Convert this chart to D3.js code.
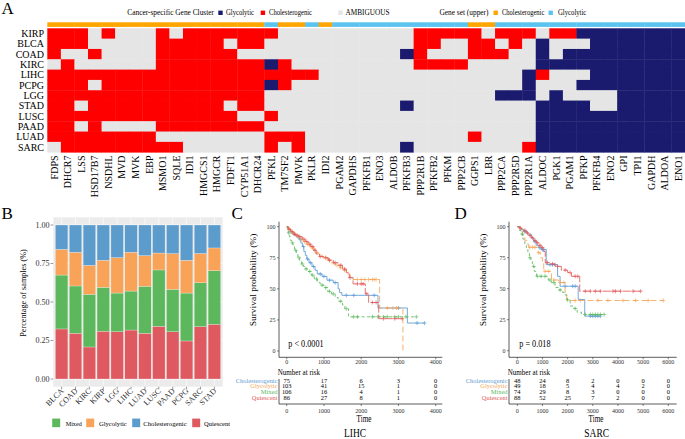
<!DOCTYPE html>
<html><head><meta charset="utf-8">
<script src="https://cdn.jsdelivr.net/npm/d3@7"></script>
<style>body{margin:0;background:#fff}svg{display:block}</style>
</head><body>
<svg id="chart" width="685" height="439"></svg>
<script>
// ---------------- DATA ----------------
const genes = ["FDPS","DHCR7","LSS","HSD17B7","NSDHL","MVD","MVK","EBP","MSMO1","SQLE","IDI1","HMGCS1","HMGCR","FDFT1","CYP51A1","DHCR24","PFKL","TM7SF2","PMVK","PKLR","IDI2","PGAM2","GAPDHS","PFKFB1","ENO3","ALDOB","PFKFB3","PPP2R1B","PFKFB2","PFKM","PPP2CB","GGPS1","LBR","PPP2CA","PPP2R5D","PPP2R1A","ALDOC","PGK1","PGAM1","PFKP","PFKFB4","ENO2","GPI","TPI1","GAPDH","ALDOA","ENO1"];
const geneSet = "CCCCCCCCCCCCCCCCGCCGCGGGGGGGGGGCCGGGGGGGGGGGGGG"; // C cholesterogenic, G glycolytic
const cancers = ["KIRP","BLCA","COAD","KIRC","LIHC","PCPG","LGG","STAD","LUSC","PAAD","LUAD","SARC"];
// R cholesterogenic, B glycolytic, . ambiguous
const clusterRows = [
  "RRR.R...R.RRRRRRR..........RRRRR.RRR.RRBBBBBBBB",
  "RRR.....RRRRR.RR...........RR..RR.R.B...BBBBBBB",
  "R..R....RRRRRR............BR...RRR..B.BBBBBBBBB",
  ".R......RRRRRRRRBR.........RRRR.....BBBBBBBBBBB",
  "RRRRRRRRRRRRRRRRRRRR...............BR...BBBBBBB",
  "RRR.RRRRRRRRRRRRBR.................B...BBBBBBBB",
  "RRRRRRRRRRRRRRRR.................BBB.B....BBBBB",
  "RR.RRRRRRRRRR.RR..........B.........BBBB..BBBBB",
  "RRRRRRRRRRRRRR..R...................BBBBBBBBBBB",
  "RR.R....RRRRRRRR....................BBBBBBBBBBB",
  "RRRRRRRR........RRR............R....BBBBBBBBBBB",
  ".RRRRRRRRR......R.R.......B........RBBBBBBBBBBB"
];

const bCancers = ["BLCA","COAD","KIRC","KIRP","LGG","LIHC","LUAD","LUSC","PAAD","PCPG","SARC","STAD"];
const quiescent       = [0.325,0.297,0.208,0.310,0.307,0.318,0.297,0.342,0.307,0.247,0.340,0.355];
const mixed           = [0.350,0.307,0.342,0.285,0.251,0.253,0.305,0.366,0.275,0.311,0.285,0.348];
const glycolytic      = [0.167,0.219,0.188,0.176,0.230,0.252,0.199,0.110,0.232,0.213,0.190,0.148];
const cholesterogenic = [0.158,0.177,0.262,0.229,0.212,0.177,0.199,0.182,0.186,0.229,0.185,0.149];
const bYTicks = [0, 0.25, 0.5, 0.75, 1];
const bYTickLabels = ["0.00","0.25","0.50","0.75","1.00"];

// LIHC survival (time in days, survival %)
const lihcCholSteps = [[0,100],[40,98],[100,96],[180,94],[250,92],[330,90],[380,87],[420,84],[460,80],[500,77],[540,74],[600,71],[680,68],[760,65],[820,62],[950,60],[1080,57],[1250,55],[1380,50],[1420,47],[1480,44.8],[2450,34.6],[3240,22.5]];
const lihcCholEnd = 3700;
const lihcCholCens = [120,200,300,360,450,560,640,720,900,1000,1150,1300,1600,1800,2350,3000,3500,3700];
const lihcGlySteps = [[0,100],[50,98],[120,96],[200,94],[280,92],[360,90],[440,88],[520,86],[600,84],[680,82],[760,79],[860,77],[960,75],[1100,73],[1200,71],[1300,69],[1420,67],[1520,65],[1600,62],[1700,59],[1780,57.5],[2495,34.6],[3120,0]];
const lihcGlyEnd = 3120;
const lihcGlyCens = [80,150,230,310,400,480,560,650,730,820,1050,1150,1250,1350,1450,1550,1900,2000,2100,2200,2300,2350,2400,2700,2850,2950];
const lihcMixSteps = [[0,100],[20,97],[40,95],[70,92],[100,89],[130,87],[170,84],[210,81],[260,78],[300,75],[350,72],[400,70],[450,68],[500,66],[580,64],[660,61],[740,58],[820,55],[900,53],[1000,51],[1100,48],[1200,46],[1300,43],[1380,40],[1500,37],[1560,34],[1660,27.5]];
const lihcMixEnd = 3480;
const lihcMixCens = [60,150,240,330,420,520,620,700,800,950,1050,1150,1250,1450,1600,1800,1900,2300,2450,2600,2700,2900,3000,3200,3480];
const lihcQuiSteps = [[0,100],[40,98],[100,96],[170,94],[250,93],[330,92],[420,90],[500,88],[580,86],[650,84],[720,81],[790,78],[880,76],[1000,75],[1120,73],[1250,71],[1380,69],[1500,66],[1600,63],[1680,59],[1780,54],[2110,46],[2200,39],[2470,26]];
const lihcQuiEnd = 3100;
const lihcQuiCens = [60,140,210,280,350,460,540,620,700,760,900,1050,1150,1300,1450,1550,1700,1900,2000,2050,2150,2300,2400,2600,2900,3100];
const lihcTimes = [0,1000,2000,3000,4000];
const lihcRiskChol = [75,17,6,3,0];
const lihcRiskGly  = [103,41,15,1,0];
const lihcRiskMix  = [106,16,4,1,0];
const lihcRiskQui  = [86,27,8,1,0];

// SARC survival
const sarcCholSteps = [[0,100],[100,98],[250,96],[400,94],[550,91],[650,88],[750,85],[850,83],[950,81.5],[1150,69.4],[1600,60],[1700,52],[2420,41.3],[2680,27.9]];
const sarcCholEnd = 3300;
const sarcCholCens = [300,700,900,1000,1050,1300,1400,1500,1900,2200,2300,2900,3000,3100,3200,3300];
const sarcGlySteps = [[0,100],[100,97],[200,93],[300,89],[380,86],[450,83.4],[830,79],[920,75],[1000,71],[1050,64],[1360,57],[1650,55],[1900,47],[1960,40.5]];
const sarcGlyEnd = 5800;
const sarcGlyCens = [500,600,700,850,1100,1250,1450,1700,1850,2300,2500,3200,3600,4200,4700,5200,5800];
const sarcMixSteps = [[0,100],[80,97],[150,94],[220,90],[300,86],[360,83],[420,79],[480,75],[540,72],[600,68],[680,64],[760,60],[1230,57],[1350,55],[1500,51],[1650,49],[1800,47],[1900,45],[1980,41],[2100,36],[2250,34],[2380,31],[2550,29.2]];
const sarcMixEnd = 3450;
const sarcMixCens = [200,500,650,800,950,1100,1300,1450,1700,2000,2300,2700,2900,3000,3100,3200,3300,3450];
const sarcQuiSteps = [[0,100],[80,99],[170,98],[260,97],[350,95],[450,93],[550,91],[650,89],[750,87],[850,85],[950,83],[1050,80],[1110,71],[1300,70],[1500,68],[1750,65],[2000,63],[2150,60],[2480,48]];
const sarcQuiEnd = 4900;
const sarcQuiCens = [120,300,400,500,600,700,800,900,1000,1200,1400,1600,1900,2100,2300,2400,2700,2900,3100,3300,3800,3900,4100,4600,4900];
const sarcTimes = [0,1000,2000,3000,4000,5000,6000];
const sarcRiskChol = [48,24,8,2,0,0,0];
const sarcRiskGly  = [49,18,5,4,4,2,0];
const sarcRiskMix  = [74,29,8,3,0,0,0];
const sarcRiskQui  = [88,52,25,7,2,0,0];

const kmYTicks = [0,25,50,75,100];

// ---------------- DRAW ----------------
const FONT = '"Liberation Serif","Times New Roman",Times,serif';
const svg = d3.select('#chart');
function T(g, x, y, s, o = {}) {
  let tr = `translate(${x},${y})`;
  if ((o.sx || 1) !== 1 || (o.sy || 1) !== 1) tr += ` scale(${o.sx || 1},${o.sy || 1})`;
  if (o.rot) tr += ` rotate(${o.rot})`;
  const t = g.append('text').attr('transform', tr)
    .attr('font-family', FONT).attr('font-size', o.size || 10)
    .attr('text-anchor', o.anchor || 'start').attr('fill', o.fill || '#000').text(s);
  if (o.len) t.attr('textLength', o.len).attr('lengthAdjust', 'spacingAndGlyphs');
  return t;
}

// ---- Panel A ----
const gA = svg.append('g');
const hx = d3.scaleBand().domain(genes).range([47.3, 685]);
const hy = d3.scaleBand().domain(cancers).range([28.3, 152.2]);
const cellCol = { R: '#FF0000', B: '#1A1A6E', '.': '#E5E5E5' };
const setCol = { C: '#FFA500', G: '#5BC3EF' };
const cells = [];
cancers.forEach((c, i) => clusterRows[i].split('').forEach((v, j) => cells.push({ c, g: genes[j], v })));
gA.append('g').selectAll('rect').data(cells).join('rect')
  .attr('x', d => hx(d.g)).attr('y', d => hy(d.c))
  .attr('width', hx.bandwidth() + 0.4).attr('height', hy.bandwidth() + 0.4)
  .attr('fill', d => cellCol[d.v]);
gA.append('g').selectAll('rect').data(genes).join('rect')
  .attr('x', d => hx(d)).attr('y', 22.3).attr('width', hx.bandwidth() + 0.3).attr('height', 4.6)
  .attr('fill', (d, i) => setCol[geneSet[i]]);
cancers.forEach(c => T(gA, 44, hy(c) + hy.bandwidth() / 2 + 3.5, c, { anchor: 'end', size: 10 }));
genes.forEach(gn => T(gA, hx(gn) + hx.bandwidth() / 2 + 3.5, 155.5, gn, { anchor: 'end', size: 10, rot: -90 }));
T(gA, 1.5, 13.5, 'A', { size: 17 });
// legend
const lg = [
  ['t', 127.3, 'Cancer-specific Gene Cluster', 86.7],
  ['s', 218.3, '#1A1A6E'], ['t', 226, 'Glycolytic', 28],
  ['s', 260.7, '#FF0000'], ['t', 269, 'Cholesterogenic', 43],
  ['s', 338.3, '#E5E5E5'], ['t', 345.5, 'AMBIGUOUS', 44],
  ['t', 439.5, 'Gene set (upper)', 49],
  ['s', 493.5, '#FFA500'], ['t', 502, 'Cholesterogenic', 42.3],
  ['s', 548.5, '#5BC3EF'], ['t', 558, 'Glycolytic', 28.3]
];
lg.forEach(d => {
  if (d[0] === 't') T(gA, d[1], 14.6, d[2], { size: 7.4, len: d[3] });
  else gA.append('rect').attr('x', d[1]).attr('y', 10.6).attr('width', 4.4).attr('height', 4.4).attr('fill', d[2]);
});

// ---- Panel B ----
const gB = svg.append('g');
const bx = d3.scaleBand().domain(bCancers).range([53.3, 222.7]).paddingInner(0.1).paddingOuter(0.15);
const by = d3.scaleLinear().domain([0, 1]).range([379, 225]);
gB.append('rect').attr('x', 53.3).attr('y', by(1.05)).attr('width', 222.7 - 53.3).attr('height', by(-0.05) - by(1.05)).attr('fill', '#EBEBEB');
[0.125, 0.375, 0.625, 0.875].forEach(v => gB.append('line').attr('x1', 53.3).attr('x2', 222.7).attr('y1', by(v)).attr('y2', by(v)).attr('stroke', '#fff').attr('stroke-width', 0.3));
bYTicks.forEach(v => gB.append('line').attr('x1', 53.3).attr('x2', 222.7).attr('y1', by(v)).attr('y2', by(v)).attr('stroke', '#fff').attr('stroke-width', 0.6));
bCancers.forEach(c => gB.append('line').attr('x1', bx(c) + bx.bandwidth() / 2).attr('x2', bx(c) + bx.bandwidth() / 2).attr('y1', by(-0.05)).attr('y2', by(1.05)).attr('stroke', '#fff').attr('stroke-width', 0.6));
const bKeys = ['Quiescent', 'Mixed', 'Glycolytic', 'Cholesterogenic'];
const bCol = { Mixed: '#5DB85D', Glycolytic: '#F9A359', Cholesterogenic: '#5C9CCD', Quiescent: '#DE5A60' };
const bRows = bCancers.map((c, i) => ({ c, Quiescent: quiescent[i], Mixed: mixed[i], Glycolytic: glycolytic[i], Cholesterogenic: cholesterogenic[i] }));
const stacked = d3.stack().keys(bKeys)(bRows);
gB.append('g').selectAll('g').data(stacked).join('g').attr('fill', s => bCol[s.key])
  .selectAll('rect').data(s => s).join('rect')
  .attr('x', d => bx(d.data.c)).attr('width', bx.bandwidth())
  .attr('y', d => by(d[1])).attr('height', d => by(d[0]) - by(d[1]))
  .attr('stroke', '#fff').attr('stroke-width', 0.4).attr('stroke-opacity', 0.6);
bYTicks.forEach((v, i) => {
  gB.append('line').attr('x1', 50.6).attr('x2', 53.3).attr('y1', by(v)).attr('y2', by(v)).attr('stroke', '#333').attr('stroke-width', 0.5);
  T(gB, 49.5, by(v) + 2.6, bYTickLabels[i], { anchor: 'end', size: 8, fill: '#333' });
});
bCancers.forEach(c => {
  const cx = bx(c) + bx.bandwidth() / 2;
  gB.append('line').attr('x1', cx).attr('x2', cx).attr('y1', by(-0.05)).attr('y2', by(-0.05) + 2.7).attr('stroke', '#333').attr('stroke-width', 0.5);
  T(gB, cx + 2.5, 391.5, c, { anchor: 'end', size: 8, rot: -45, fill: '#333' });
});
T(gB, 26, 293, 'Percentage of samples (%)', { anchor: 'middle', size: 8.2, rot: -90 });
T(gB, 1.5, 218.5, 'B', { size: 17 });
const bLeg = [['Mixed', 52, 65.7, 16], ['Glycolytic', 86, 99, 27.7], ['Cholesterogenic', 132, 143.3, 43.3], ['Quiescent', 192, 204, 26]];
bLeg.forEach(d => {
  gB.append('rect').attr('x', d[1]).attr('y', 418.3).attr('width', 8.3).attr('height', 9).attr('fill', bCol[d[0]]).attr('stroke', '#fff').attr('stroke-width', 0.4);
  T(gB, d[2], 425.5, d[0], { size: 6.8, len: d[3] });
});

// ---- KM panels ----
const kmCol = { Cholesterogenic: '#5B9BD5', Glycolytic: '#F6A456', Mixed: '#5DBA5D', Quiescent: '#E35A5A' };
const kmDash = { Cholesterogenic: null, Glycolytic: '6,3', Mixed: '3,2.5', Quiescent: '8,2' };
function survAt(steps, t) { let s = steps[0][1]; steps.forEach(d => { if (d[0] <= t) s = d[1]; }); return s; }
function drawKM(o) {
  const g = svg.append('g');
  const x = o.x, y = o.y;
  const ax = o.ax, base = 357.3;
  g.append('line').attr('x1', ax).attr('x2', ax).attr('y1', 221.7).attr('y2', base).attr('stroke', '#333').attr('stroke-width', 0.8);
  g.append('line').attr('x1', ax).attr('x2', o.axEnd).attr('y1', base).attr('y2', base).attr('stroke', '#333').attr('stroke-width', 0.8);
  kmYTicks.forEach(v => {
    g.append('line').attr('x1', ax - 2).attr('x2', ax).attr('y1', y(v)).attr('y2', y(v)).attr('stroke', '#333').attr('stroke-width', 0.6);
    T(g, ax - 3.5, y(v) + 2.3, v, { anchor: 'end', size: 8, sx: 0.76, sy: 0.85, fill: '#333' });
  });
  o.times.forEach(t => {
    g.append('line').attr('x1', x(t)).attr('x2', x(t)).attr('y1', base).attr('y2', base + 2).attr('stroke', '#333').attr('stroke-width', 0.6);
    T(g, x(t), base + 6.3, t, { anchor: 'middle', size: 8, sx: 0.76, sy: 0.85, fill: '#333' });
  });
  const line = d3.line().x(d => x(d[0])).y(d => y(d[1])).curve(d3.curveStepAfter);
  o.groups.forEach(gr => {
    const pts = gr.steps.concat([[gr.end, gr.steps[gr.steps.length - 1][1]]]);
    g.append('path').attr('d', line(pts)).attr('fill', 'none').attr('stroke', kmCol[gr.name])
      .attr('stroke-width', 1).attr('stroke-dasharray', kmDash[gr.name]).attr('opacity', 0.85);
    g.append('g').selectAll('path').data(gr.cens).join('path')
      .attr('transform', t => `translate(${x(t)},${y(survAt(gr.steps, t))})`)
      .attr('d', 'M-2,0H2M0,-2V2').attr('stroke', kmCol[gr.name]).attr('stroke-width', 0.8).attr('opacity', 0.85);
  });
  T(g, o.pX, 347, o.pText, { size: 10.5, sx: 0.78 });
  T(g, o.yLabX, 280, 'Survival probability (%)', { anchor: 'middle', size: 9.5, sx: 0.76, rot: -90 });
  // risk table
  T(g, ax - 1.3, 375.3, 'Number at risk', { size: 9.3, sx: 0.76, sy: 0.8 });
  const rowY = [382.6, 388.3, 394, 399.7];
  g.append('line').attr('x1', ax).attr('x2', ax).attr('y1', 379).attr('y2', 404).attr('stroke', '#333').attr('stroke-width', 0.8);
  g.append('line').attr('x1', ax).attr('x2', o.axEnd).attr('y1', 404).attr('y2', 404).attr('stroke', '#333').attr('stroke-width', 0.8);
  o.groups.forEach((gr, i) => {
    T(g, ax - 1.5, rowY[i], gr.name, { anchor: 'end', size: 8.5, sx: 0.76, sy: 0.6, fill: kmCol[gr.name] });
    gr.risk.forEach((n, j) => T(g, x(o.times[j]), rowY[i], n, { anchor: 'middle', size: 8.5, sx: 0.76, sy: 0.6 }));
  });
  o.times.forEach(t => {
    g.append('line').attr('x1', x(t)).attr('x2', x(t)).attr('y1', 404).attr('y2', 406).attr('stroke', '#333').attr('stroke-width', 0.6);
    T(g, x(t), 412.5, t, { anchor: 'middle', size: 8, sx: 0.76, sy: 0.85, fill: '#333' });
  });
  T(g, o.timeX, 421.7, 'Time', { anchor: 'middle', size: 9.4, sx: 0.76 });
  T(g, o.titleX, 437.3, o.title, { anchor: 'middle', size: 12.5, sx: 0.76 });
  T(g, o.letterX, 219, o.letter, { size: 17 });
}

drawKM({
  x: d3.scaleLinear().domain([0, 4000]).range([286.7, 435.7]),
  y: d3.scaleLinear().domain([0, 100]).range([351, 226.7]),
  ax: 279, axEnd: 442.3, times: lihcTimes,
  groups: [
    { name: 'Cholesterogenic', steps: lihcCholSteps, end: lihcCholEnd, cens: lihcCholCens, risk: lihcRiskChol },
    { name: 'Glycolytic', steps: lihcGlySteps, end: lihcGlyEnd, cens: lihcGlyCens, risk: lihcRiskGly },
    { name: 'Mixed', steps: lihcMixSteps, end: lihcMixEnd, cens: lihcMixCens, risk: lihcRiskMix },
    { name: 'Quiescent', steps: lihcQuiSteps, end: lihcQuiEnd, cens: lihcQuiCens, risk: lihcRiskQui }
  ],
  pX: 288.3, pText: 'p < 0.0001', yLabX: 255.5, timeX: 364, titleX: 355, title: 'LIHC', letterX: 231.5, letter: 'C'
});
drawKM({
  x: d3.scaleLinear().domain([0, 6000]).range([517.3, 668.3]),
  y: d3.scaleLinear().domain([0, 100]).range([350.7, 226.7]),
  ax: 509, axEnd: 676.7, times: sarcTimes,
  groups: [
    { name: 'Cholesterogenic', steps: sarcCholSteps, end: sarcCholEnd, cens: sarcCholCens, risk: sarcRiskChol },
    { name: 'Glycolytic', steps: sarcGlySteps, end: sarcGlyEnd, cens: sarcGlyCens, risk: sarcRiskGly },
    { name: 'Mixed', steps: sarcMixSteps, end: sarcMixEnd, cens: sarcMixCens, risk: sarcRiskMix },
    { name: 'Quiescent', steps: sarcQuiSteps, end: sarcQuiEnd, cens: sarcQuiCens, risk: sarcRiskQui }
  ],
  pX: 519.3, pText: 'p = 0.018', yLabX: 485.5, timeX: 596, titleX: 596.7, title: 'SARC', letterX: 454.5, letter: 'D'
});
</script>
</body></html>
